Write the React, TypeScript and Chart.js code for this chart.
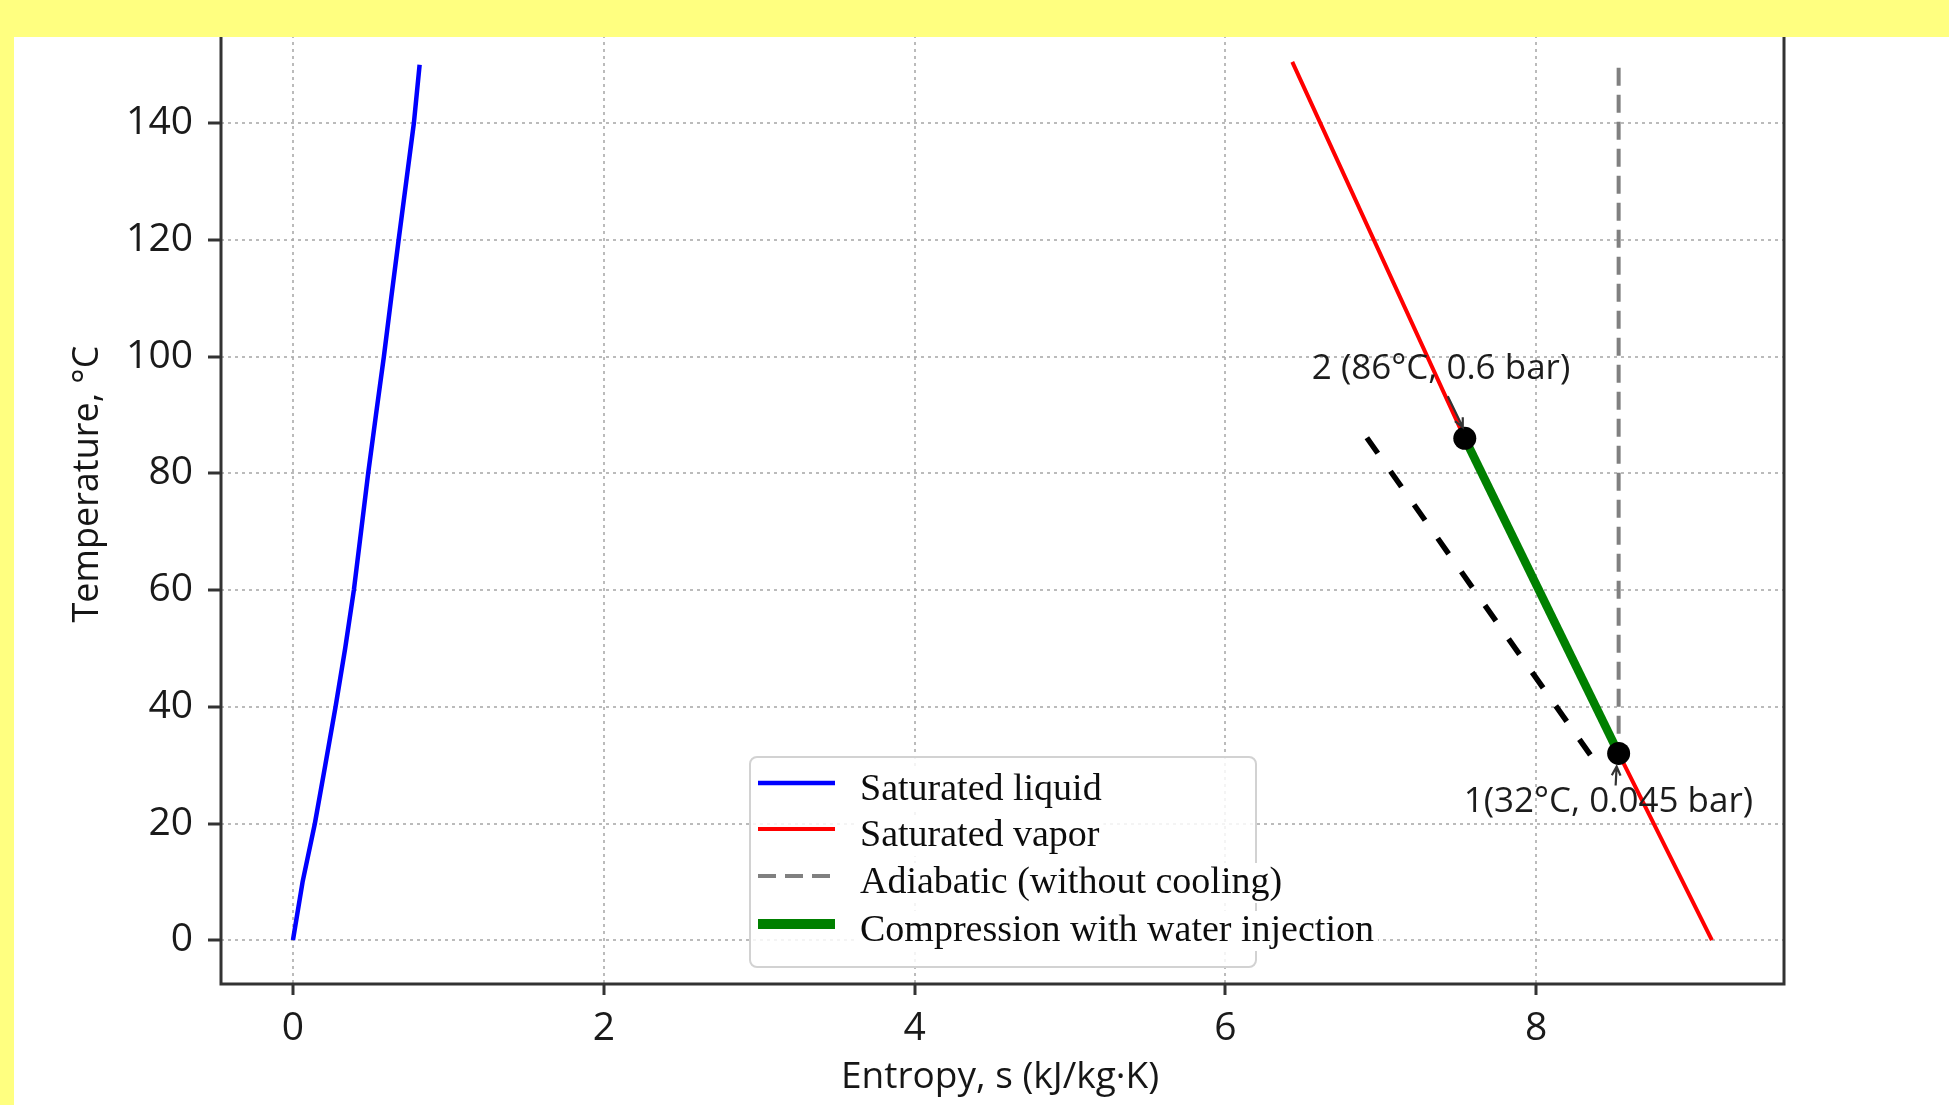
import React, { useEffect, useRef } from "react";
import { Chart, registerables } from "chart.js";

Chart.register(...registerables);

// ---------- data ----------
const liquidT = [0, 10, 20, 30, 40, 50, 60, 70, 80, 90, 100, 110, 120, 130, 140, 150];
const liquidS = [0, 0.062, 0.141, 0.208, 0.274, 0.336, 0.392, 0.438, 0.484, 0.534, 0.585, 0.632, 0.68, 0.729, 0.778, 0.815];

const vaporT = [150.5, 86, 32, 0];
const vaporS = [6.43, 7.54, 8.53, 9.13];

const adiabaticT = [149.5, 32];
const adiabaticS = [8.53, 8.53];

const compressionT = [86, 32];
const compressionS = [7.54, 8.53];

const blackDashT = [86.1, 31.3];
const blackDashS = [6.91, 8.36];

const stateT = [86, 32];
const stateS = [7.54, 8.53];
const stateLabels = ["2 (86°C, 0.6 bar)", "1(32°C, 0.045 bar)"];

const xTicks = [0, 2, 4, 6, 8];
const yTicks = [0, 20, 40, 60, 80, 100, 120, 140];

const X_MIN = -0.463;
const X_MAX = 9.594;
const Y_MIN = -7.5;
const Y_MAX = 157.5;

const xTitle = "Entropy, s (kJ/kg·K)";
const yTitle = "Temperature, °C";

const SANS = '"Open Sans", "Noto Sans", sans-serif';
const SERIF = '"Liberation Serif", "DejaVu Serif", serif';

const toPts = (xs: number[], ys: number[]) => xs.map((x, i) => ({ x, y: ys[i] }));

function arrow(ctx: CanvasRenderingContext2D, x1: number, y1: number, x2: number, y2: number) {
  const ang = Math.atan2(y2 - y1, x2 - x1);
  const h = 10;
  ctx.beginPath();
  ctx.moveTo(x1, y1);
  ctx.lineTo(x2, y2);
  ctx.moveTo(x2 - h * Math.cos(ang - 0.45), y2 - h * Math.sin(ang - 0.45));
  ctx.lineTo(x2, y2);
  ctx.lineTo(x2 - h * Math.cos(ang + 0.45), y2 - h * Math.sin(ang + 0.45));
  ctx.stroke();
}

const decorPlugin = {
  id: "decor",
  afterDatasetsDraw(chart: any) {
    const { ctx, chartArea: a } = chart;
    ctx.save();
    ctx.strokeStyle = "#333333";
    ctx.lineWidth = 3;
    ctx.strokeRect(a.left, a.top, a.right - a.left, a.bottom - a.top);
    ctx.restore();
  },
  afterDraw(chart: any) {
    const { ctx } = chart;
    const xs = chart.scales.x;
    const ys = chart.scales.y;

    // annotations
    const offs = [
      { dx: -153, dy: -69, ax1: -17, ay1: -42, ax2: -2, ay2: -11 },
      { dx: -155, dy: 49, ax1: -3, ay1: 32, ax2: -2, ay2: 13 },
    ];
    ctx.save();
    ctx.font = `35px ${SANS}`;
    ctx.fillStyle = "#1c1c1c";
    ctx.textAlign = "left";
    ctx.textBaseline = "middle";
    stateLabels.forEach((lab, i) => {
      const px = xs.getPixelForValue(stateS[i]);
      const py = ys.getPixelForValue(stateT[i]);
      const o = offs[i];
      ctx.fillText(lab, px + o.dx, py + o.dy);
      ctx.strokeStyle = "#333333";
      ctx.lineWidth = 2.2;
      arrow(ctx, px + o.ax1, py + o.ay1, px + o.ax2, py + o.ay2);
    });
    ctx.restore();

    // legend
    const L = { x: 750, y: 757, w: 506, h: 210 };
    ctx.save();
    ctx.beginPath();
    (ctx as any).roundRect(L.x, L.y, L.w, L.h, 7);
    ctx.fillStyle = "rgba(255,255,255,0.85)";
    ctx.fill();
    ctx.strokeStyle = "#d2d2d2";
    ctx.lineWidth = 2;
    ctx.stroke();
    const entries = chart.data.datasets.filter((d: any) => d.inLegend);
    const baselines = [800, 846, 893, 941];
    ctx.font = `38px ${SERIF}`;
    ctx.textBaseline = "alphabetic";
    ctx.textAlign = "left";
    entries.forEach((d: any, i: number) => {
      const yb = baselines[i];
      const ym = yb - 17;
      ctx.save();
      ctx.strokeStyle = d.borderColor;
      ctx.lineWidth = d.legendWidth || d.borderWidth;
      ctx.setLineDash(d.borderDash || []);
      ctx.lineCap = "butt";
      ctx.beginPath();
      ctx.moveTo(758, ym);
      ctx.lineTo(835, ym);
      ctx.stroke();
      ctx.restore();
      const tw = ctx.measureText(d.label).width;
      ctx.fillStyle = "#ffffff";
      ctx.fillRect(858, yb - 30, tw + 6, 40);
      ctx.fillStyle = "#0d0d0d";
      ctx.fillText(d.label, 860, yb);
    });
    ctx.restore();

    // axis titles
    ctx.save();
    ctx.fillStyle = "#161616";
    ctx.textAlign = "center";
    ctx.textBaseline = "middle";
    ctx.font = `37px ${SANS}`;
    ctx.fillText(xTitle, 1000, 1077);
    ctx.translate(88, 484);
    ctx.rotate(-Math.PI / 2);
    ctx.font = `36px ${SANS}`;
    ctx.fillText(yTitle, 0, 0);
    ctx.restore();
  },
};

export default function App() {
  const ref = useRef<HTMLCanvasElement | null>(null);

  useEffect(() => {
    if (!ref.current) return;
    const gridCommon = {
      color: "rgba(170,170,170,0.8)",
      lineWidth: 2,
      drawTicks: true,
      tickLength: 12,
      tickColor: "#333333",
      tickWidth: 3,
      tickBorderDash: [],
    };
    const chart = new Chart(ref.current, {
      type: "scatter",
      data: {
        datasets: [
          {
            label: "Saturated liquid",
            inLegend: true,
            data: toPts(liquidS, liquidT),
            showLine: true,
            borderColor: "#0000ff",
            borderWidth: 4.5,
            pointRadius: 0,
            order: 5,
          },
          {
            label: "Saturated vapor",
            inLegend: true,
            data: toPts(vaporS, vaporT),
            showLine: true,
            borderColor: "#ff0000",
            borderWidth: 4,
            pointRadius: 0,
            order: 4,
          },
          {
            label: "Adiabatic (without cooling)",
            inLegend: true,
            data: toPts(adiabaticS, adiabaticT),
            showLine: true,
            borderColor: "#808080",
            borderWidth: 4,
            borderDash: [18, 9],
            borderCapStyle: "butt",
            pointRadius: 0,
            order: 3,
          },
          {
            label: "Compression with water injection",
            inLegend: true,
            legendWidth: 10,
            data: toPts(compressionS, compressionT),
            showLine: true,
            borderColor: "#008000",
            borderWidth: 8.5,
            pointRadius: 0,
            order: 1,
          },
          {
            label: "",
            data: toPts(blackDashS, blackDashT),
            showLine: true,
            borderColor: "#000000",
            borderWidth: 5.5,
            borderDash: [19, 22],
            borderCapStyle: "butt",
            pointRadius: 0,
            order: 2,
          },
          {
            label: "States",
            data: toPts(stateS, stateT),
            showLine: false,
            pointRadius: 11.5,
            pointBackgroundColor: "#000000",
            pointBorderWidth: 0,
            order: 0,
          },
        ] as any,
      },
      options: {
        responsive: false,
        animation: false,
        events: [],
        devicePixelRatio: 1,
        layout: { padding: { left: 0, right: 165, top: 21, bottom: 0 } },
        plugins: {
          legend: { display: false },
          tooltip: { enabled: false },
          title: { display: false },
        },
        scales: {
          x: {
            type: "linear",
            min: X_MIN,
            max: X_MAX,
            afterBuildTicks: (s: any) => {
              s.ticks = xTicks.map((v) => ({ value: v }));
            },
            afterFit: (s: any) => {
              s.height = 121;
              s.paddingLeft = 0;
              s.paddingRight = 0;
            },
            grid: { ...gridCommon, tickLength: 11 },
            border: { display: false, dash: [3, 4] },
            ticks: {
              font: { family: SANS, size: 39 },
              color: "#1a1a1a",
              padding: 10,
              maxRotation: 0,
              autoSkip: false,
            },
          },
          y: {
            type: "linear",
            min: Y_MIN,
            max: Y_MAX,
            afterBuildTicks: (s: any) => {
              s.ticks = yTicks.map((v) => ({ value: v }));
            },
            afterFit: (s: any) => {
              s.width = 221;
              s.paddingTop = 0;
              s.paddingBottom = 0;
            },
            grid: { ...gridCommon, tickLength: 13 },
            border: { display: false, dash: [3, 4] },
            ticks: {
              font: { family: SANS, size: 39 },
              color: "#1a1a1a",
              padding: 15,
              autoSkip: false,
            },
          },
        },
      } as any,
      plugins: [decorPlugin],
    });
    return () => chart.destroy();
  }, []);

  return (
    <div
      style={{
        position: "absolute",
        left: 0,
        top: 0,
        width: 1949,
        height: 1105,
        background: "#ffff80",
        overflow: "hidden",
      }}
    >
      <div
        style={{
          position: "absolute",
          left: 14,
          top: 37,
          right: 0,
          bottom: 0,
          background: "#ffffff",
          overflow: "hidden",
        }}
      >
        <canvas
          ref={ref}
          width={1949}
          height={1105}
          style={{ position: "absolute", left: -14, top: -37, width: 1949, height: 1105 }}
        />
      </div>
    </div>
  );
}
